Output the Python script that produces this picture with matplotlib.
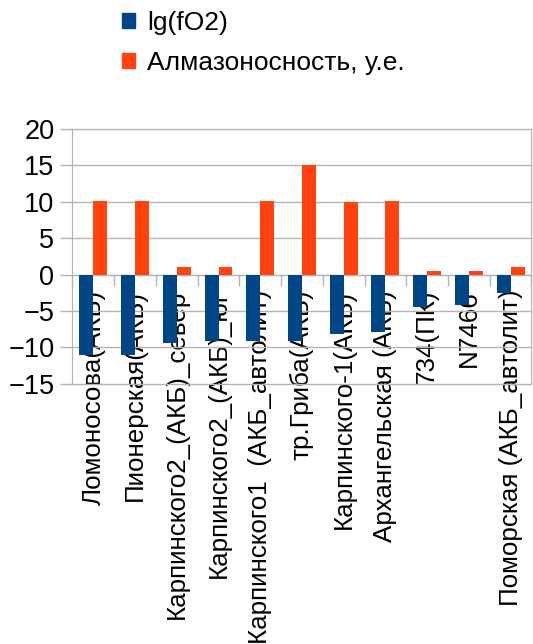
import matplotlib
matplotlib.use("Agg")
import matplotlib.pyplot as plt
import numpy as np
from matplotlib.patches import Patch

plt.rcParams['font.family'] = ['Liberation Sans', 'DejaVu Sans']

categories = [
    "Ломоносова(АКБ)",
    "Пионерская(АКБ)",
    "Карпинского2_(АКБ)_север",
    "Карпинского2_(АКБ)_юг",
    "Карпинского1  (АКБ_автолит)",
    "тр.Гриба(АКБ)",
    "Карпинского-1(АКБ)",
    "Архангельская (АКБ)",
    "734(ПК)",
    "N7466",
    "Поморская (АКБ_автолит)",
]
lg_fo2 = [-11.1, -11.05, -9.4, -9.1, -9.1, -9.1, -8.15, -7.9, -4.5, -4.2, -2.55]
diamond = [10.1, 10.1, 1.1, 1.1, 10.1, 15.0, 10.0, 10.1, 0.5, 0.5, 1.1]
series_names = ["lg(fO2)", "Алмазоносность, у.е."]
colors = ["#004586", "#ff420e"]
yticks = [-15, -10, -5, 0, 5, 10, 15, 20]

fig = plt.figure(figsize=(5.33, 6.44), dpi=100)
ax = fig.add_axes([0.136, 0.404, 0.861, 0.396])

x = np.arange(len(categories))
w = 0.335
ax.bar(x - w / 2, lg_fo2, width=w, color=colors[0], zorder=3)
ax.bar(x + w / 2, diamond, width=w, color=colors[1], zorder=3)

ax.set_xlim(-0.5, len(categories) - 0.5)
ax.set_ylim(-15, 20)
ax.set_yticks(yticks)
ax.tick_params(axis='y', length=9, width=1, color='#b3b3b3', labelsize=19.5, pad=4)
ax.grid(axis='y', color='#b3b3b3', linewidth=1, zorder=0)
for gl in ax.get_ygridlines():
    gl.set_clip_on(False)

# category axis crossing at zero
ax.spines['bottom'].set_position(('data', 0))
ax.spines['bottom'].set_color('#b3b3b3')
ax.spines['top'].set_visible(False)
for s in ('left', 'right'):
    ax.spines[s].set_color('#b3b3b3')
ax.set_xticks(x)
ax.set_xticklabels(categories, rotation=90, fontsize=18.7, va='top', ha='center')
ax.tick_params(axis='x', which='major', length=0, pad=11)
ax.set_xticks(np.arange(len(categories) + 1) - 0.5, minor=True)
ax.tick_params(axis='x', which='minor', length=8, width=1, color='#b3b3b3')
for lbl in ax.get_xticklabels():
    lbl.set_zorder(5)

handles = [Patch(color=c) for c in colors]
fig.legend(handles, series_names, loc='upper left', bbox_to_anchor=(0.184, 1.02),
           frameon=False, fontsize=19, handlelength=0.5, handleheight=0.5,
           handletextpad=0.45, labelspacing=0.62)

fig.savefig("out.png", dpi=100)
